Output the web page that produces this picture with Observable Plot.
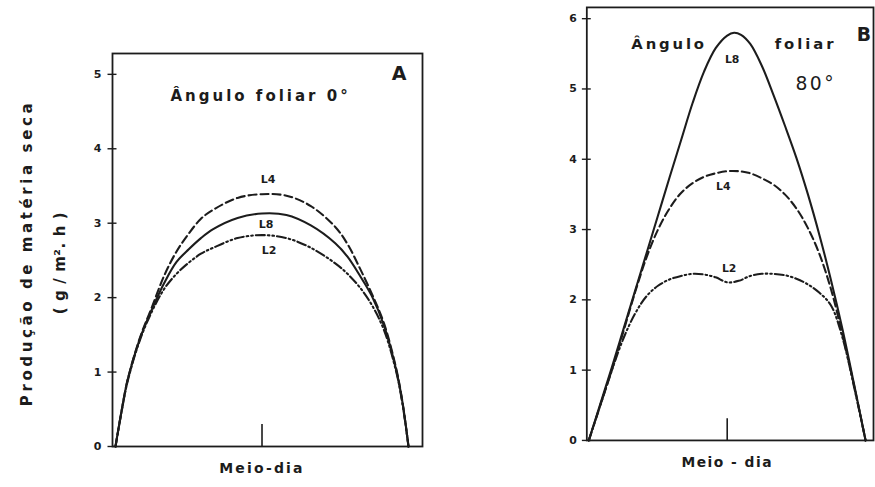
<!DOCTYPE html>
<html><head><meta charset="utf-8">
<script src="https://cdn.jsdelivr.net/npm/d3@7"></script>
<script src="https://cdn.jsdelivr.net/npm/@observablehq/plot@0.6"></script>
<style>
html,body{margin:0;padding:0;background:#fff;overflow:hidden;width:875px;height:487px;}
#wrap{position:relative;width:875px;height:487px;overflow:hidden;}
#pa{position:absolute;left:0;top:0;}
#pb{position:absolute;left:440px;top:0;}
</style></head><body><div id="wrap"><div id="pa"></div><div id="pb"></div></div>
<script>
// ---------- DATA ----------
const linhas = ["L8", "L4", "L2"];
// Panel A (Ângulo foliar 0°)
const horasA = [6, 6.25, 6.5, 7, 7.5, 8, 8.5, 9, 9.5, 10, 11, 12, 13, 14, 15, 15.5, 16, 16.5, 17, 17.5, 17.75, 18];
const A_L8 = [0, 0.48, 0.9, 1.45, 1.85, 2.2, 2.48, 2.65, 2.8, 2.92, 3.07, 3.13, 3.11, 2.97, 2.73, 2.55, 2.3, 2.02, 1.62, 1.02, 0.6, 0];
const A_L4 = [0, 0.48, 0.9, 1.46, 1.88, 2.3, 2.62, 2.86, 3.06, 3.18, 3.34, 3.39, 3.37, 3.23, 2.95, 2.72, 2.4, 2.05, 1.65, 1.04, 0.6, 0];
const A_L2 = [0, 0.47, 0.88, 1.43, 1.82, 2.12, 2.32, 2.47, 2.59, 2.67, 2.8, 2.84, 2.8, 2.67, 2.46, 2.32, 2.14, 1.9, 1.56, 1.0, 0.58, 0];
// Panel B (Ângulo foliar 80°)
const horasB_L8 = [6, 6.5, 7, 7.5, 8, 8.5, 9, 9.5, 10, 10.5, 11, 11.5, 12, 12.3, 12.6, 13, 13.5, 14, 14.5, 15, 15.5, 16, 16.5, 17, 17.5, 18];
const B_L8 = [0, 0.52, 1.04, 1.58, 2.12, 2.66, 3.2, 3.74, 4.27, 4.8, 5.25, 5.58, 5.76, 5.8, 5.77, 5.64, 5.33, 4.92, 4.48, 4.02, 3.5, 2.92, 2.28, 1.58, 0.8, 0];
const horasB = [6, 6.5, 7, 7.5, 8, 8.5, 9, 9.5, 10, 10.5, 11, 11.5, 12, 12.5, 13, 13.5, 14, 14.5, 15, 15.5, 16, 16.5, 17, 17.5, 18];
const B_L4 = [0, 0.5, 1.0, 1.55, 2.1, 2.6, 3.0, 3.3, 3.52, 3.66, 3.75, 3.8, 3.83, 3.83, 3.8, 3.73, 3.64, 3.5, 3.3, 3.02, 2.65, 2.15, 1.5, 0.78, 0];
const B_L2 = [0, 0.5, 1.0, 1.45, 1.8, 2.05, 2.2, 2.29, 2.34, 2.37, 2.36, 2.32, 2.25, 2.27, 2.34, 2.37, 2.37, 2.35, 2.3, 2.22, 2.1, 1.92, 1.46, 0.76, 0];
const yTicksA = [0, 1, 2, 3, 4, 5];
const yTicksB = [0, 1, 2, 3, 4, 5, 6];
const xTicks = [12];
const xLabelA = "Meio-dia";
const xLabelB = "Meio - dia";
const yTitle1 = "Produção de matéria seca";
const yTitle2 = "( g / m². h )";

// ---------- HELPERS ----------
const rows = (horas, vals, linha) => horas.map((h, i) => ({hora: h, valor: vals[i], linha}));
const INK = "#1c1c1c";
const FONT = "DejaVu Sans";
const estilo = {
  L8: {strokeDasharray: null},
  L4: {strokeDasharray: "8,4"},
  L2: {strokeDasharray: "9,3,1.6,3,1.6,3"}
};
function linha(data, nome) {
  return Plot.line(data, {x: "hora", y: "valor", curve: "catmull-rom", stroke: INK, strokeWidth: 2.1,
    strokeDasharray: estilo[nome].strokeDasharray});
}
const peak = d => d3.greatest(d, r => r.valor);
const at = (d, h) => d.find(r => r.hora === h);
const espacos = {
  "Produção de matéria seca": 3.6, "( g / m². h )": 0.6, "Ângulo foliar 0°": 3,
  "Meio-dia": 2.2, "Meio - dia": 1.5, "Ângulo": 2.9, "foliar": 3, "80°": 2.5
};
function espacar(svg) {
  svg.querySelectorAll("text").forEach(t => {
    const k = t.textContent;
    if (espacos[k] !== undefined) t.setAttribute("letter-spacing", espacos[k]);
  });
}
const txt = {fill: INK, fontFamily: FONT, fontWeight: "bold"};
const eixoY = (ticks, pad) => [
  Plot.axisY({ticks, tickSize: 0, tickPadding: pad, tickFormat: d => String(d), fontSize: 11, label: null}),
  Plot.axisY({ticks, tickSize: 9, dx: 4.5, tickFormat: () => "", label: null, stroke: INK, strokeWidth: 1.4})
];

// ---------- PANEL A ----------
const aL8 = rows(horasA, A_L8, "L8"), aL4 = rows(horasA, A_L4, "L4"), aL2 = rows(horasA, A_L2, "L2");
const plotA = Plot.plot({
  width: 440, height: 487,
  marginLeft: 112, marginRight: 18, marginTop: 53, marginBottom: 41,
  style: {fontFamily: FONT, fontWeight: "bold", color: INK, background: "white"},
  x: {domain: [5.877, 18.573]},
  y: {domain: [0, 5.28]},
  marks: [
    Plot.frame({stroke: INK, strokeWidth: 1.8}),
    ...eixoY(yTicksA, 11),
    Plot.axisX({ticks: xTicks, tickSize: 22, dy: -22, tickFormat: () => "", label: null, stroke: INK, strokeWidth: 1.6}),
    Plot.axisX({ticks: xTicks, tickSize: 0, tickPadding: 17, tickFormat: () => xLabelA, fontSize: 14, label: null}),
    linha(aL8, "L8"), linha(aL4, "L4"), linha(aL2, "L2"),
    Plot.text([peak(aL4)], {x: "hora", y: "valor", text: () => "L4", dy: -15, dx: 6, fontSize: 11, ...txt}),
    Plot.text([peak(aL8)], {x: "hora", y: "valor", text: () => "L8", dy: 11, dx: 4, fontSize: 11, ...txt}),
    Plot.text([peak(aL2)], {x: "hora", y: "valor", text: () => "L2", dy: 15, dx: 7, fontSize: 11, ...txt}),
    Plot.text(["Ângulo foliar 0°"], {frameAnchor: "top-left", dx: 58, dy: 37, textAnchor: "start", fontSize: 15, ...txt, text: d => d}),
    Plot.text(["A"], {frameAnchor: "top-right", dx: -16, dy: 13, fontSize: 19, ...txt, text: d => d}),
    Plot.text([yTitle1], {frameAnchor: "left", dx: -85, dy: 3, rotate: -90, textAnchor: "middle", fontSize: 15, ...txt, text: d => d}),
    Plot.text([yTitle2], {frameAnchor: "left", dx: -52, dy: 13, rotate: -90, textAnchor: "middle", fontSize: 15, ...txt, text: d => d})
  ]
});
espacar(plotA);
document.getElementById("pa").append(plotA);

// ---------- PANEL B ----------
const bL8 = rows(horasB_L8, B_L8, "L8"), bL4 = rows(horasB, B_L4, "L4"), bL2 = rows(horasB, B_L2, "L2");
const plotB = Plot.plot({
  width: 440, height: 487,
  marginLeft: 148, marginRight: 2, marginTop: 7, marginBottom: 42,
  style: {fontFamily: FONT, fontWeight: "bold", color: INK, background: "white"},
  x: {domain: [5.914, 18.343]},
  y: {domain: [0, 6.16]},
  marks: [
    Plot.frame({stroke: INK, strokeWidth: 1.8}),
    ...eixoY(yTicksB, 10),
    Plot.axisX({ticks: xTicks, tickSize: 22, dy: -22, tickFormat: () => "", label: null, stroke: INK, strokeWidth: 1.6}),
    Plot.axisX({ticks: xTicks, tickSize: 0, tickPadding: 17, tickFormat: () => xLabelB, fontSize: 14, label: null}),
    linha(bL8, "L8"), linha(bL4, "L4"), linha(bL2, "L2"),
    Plot.text([peak(bL8)], {x: "hora", y: "valor", text: () => "L8", dy: 27, dx: -2, fontSize: 11, ...txt}),
    Plot.text([peak(bL4)], {x: "hora", y: "valor", text: () => "L4", dy: 15, dx: -4, fontSize: 11, ...txt}),
    Plot.text([at(bL2, 12)], {x: "hora", y: "valor", text: () => "L2", dy: -14, dx: 2, fontSize: 11, ...txt}),
    Plot.text(["Ângulo"], {frameAnchor: "top-left", dx: 45, dy: 31, textAnchor: "start", fontSize: 15, ...txt, text: d => d}),
    Plot.text(["foliar"], {frameAnchor: "top-left", dx: 190, dy: 31, textAnchor: "start", fontSize: 15, ...txt, text: d => d}),
    Plot.text(["80°"], {frameAnchor: "top-left", dx: 211, dy: 70, textAnchor: "start", fontSize: 19, fill: INK, fontFamily: FONT, fontWeight: "normal", text: d => d}),
    Plot.text(["B"], {frameAnchor: "top-left", dx: 273, dy: 20, fontSize: 19, ...txt, text: d => d})
  ]
});
espacar(plotB);
document.getElementById("pb").append(plotB);
</script>
</body></html>
